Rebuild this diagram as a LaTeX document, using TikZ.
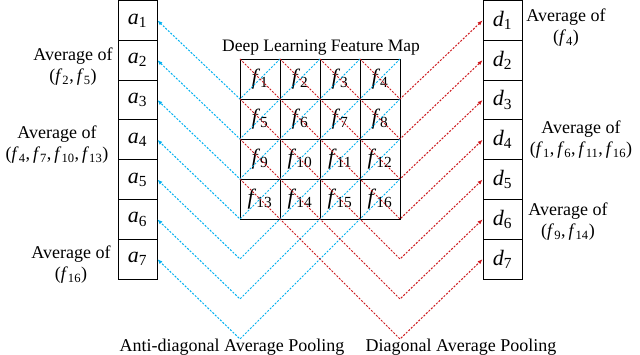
\documentclass[tikz,border=0pt]{standalone}
\usepackage{fontspec}
\setmainfont{Liberation Serif}
\usetikzlibrary{arrows.meta}
\definecolor{cyanl}{RGB}{0,176,240}
\definecolor{redl}{RGB}{205,25,30}
\newcommand\sv[2]{\textit{#1}\textsubscript{#2}}
\begin{document}
\begin{tikzpicture}[x=1pt,y=-1pt,
  cell/.style={draw, line width=0.8pt, minimum width=39pt, minimum height=39.8pt, inner sep=0pt, font=\fontsize{22}{24}\selectfont},
  gcell/.style={draw, line width=0.8pt, minimum size=40pt, inner sep=0pt, font=\fontsize{22}{24}\selectfont},
  lbl/.style={align=center, font=\fontsize{18}{21}\selectfont, inner sep=0pt},
  adash/.style={cyanl, line width=1pt, dash pattern=on 2pt off 1.5pt},
  ddash/.style={redl, line width=1pt, dash pattern=on 2pt off 1.5pt},
  arr/.style={-{Latex[length=5pt,width=4pt]}}]
\useasboundingbox (0,0) rectangle (640,355);
% columns
\foreach \k in {1,...,7} {
  \node[cell] (a\k) at (137.5, {0.5+19.9+39.8*(\k-1)}) {\sv{a}{\k}};
  \node[cell] (d\k) at (502.5, {0.5+19.9+39.8*(\k-1)}) {\sv{d}{\k}};
}
% grid
\foreach \r in {0,...,3} {
  \foreach \c in {0,...,3} {
    \pgfmathtruncatemacro\n{4*\r+\c+1}
    \node[gcell] (g\n) at ({260+40*\c}, {79+40*\r}) {\sv{f}{\n}};
  }
}
% corner coordinates
\foreach \i in {0,...,4} {
  \foreach \j in {0,...,4} {
    \coordinate (p\i\j) at ({240+40*\i}, {59+40*\j});
  }
}
\foreach \m in {1,2,3} {
  \pgfmathtruncatemacro\k{\m+4}
  \coordinate (va\k) at (240, {219+40*\m});
  \coordinate (vd\k) at (400, {219+40*\m});
}
% anti-diagonal (cyan)
\foreach \k in {1,...,4} {
  \draw[adash, arr] (p\k0) -- (p0\k) -- (a\k.east);
}
\foreach \m in {1,2,3} {
  \pgfmathtruncatemacro\k{\m+4}
  \draw[adash, arr] (p4\m) -- (va\k) -- (a\k.east);
}
% diagonal (red)
\foreach \k in {1,...,4} {
  \pgfmathtruncatemacro\s{4-\k}
  \draw[ddash, arr] (p\s0) -- (p4\k) -- (d\k.west);
}
\foreach \m in {1,2,3} {
  \pgfmathtruncatemacro\k{\m+4}
  \draw[ddash, arr] (p0\m) -- (vd\k) -- (d\k.west);
}
% texts
\node[lbl, anchor=base] (title) at (321, 52) {\fontsize{17.5}{20}\selectfont Deep Learning Feature Map};
\node[lbl, anchor=base] (lanti) at (232, 352) {Anti-diagonal Average Pooling};
\node[lbl, anchor=base] (ldiag) at (461, 352) {Diagonal Average Pooling};
\node[lbl] (la2) at (73, 67) {Average of\\(\sv{f}{2},\,\sv{f}{5})};
\node[lbl] (la4) at (57, 145) {Average of\\(\sv{f}{4},\,\sv{f}{7},\,\sv{f}{10},\,\sv{f}{13})};
\node[lbl] (la7) at (71, 265) {Average of\\(\sv{f}{16})};
\node[lbl] (ld1) at (566, 28) {Average of\\(\sv{f}{4})};
\node[lbl] (ld4) at (581, 140) {Average of\\(\sv{f}{1},\,\sv{f}{6},\,\sv{f}{11},\,\sv{f}{16})};
\node[lbl] (ld6) at (568, 222) {Average of\\(\sv{f}{9},\,\sv{f}{14})};
\end{tikzpicture}
\end{document}
